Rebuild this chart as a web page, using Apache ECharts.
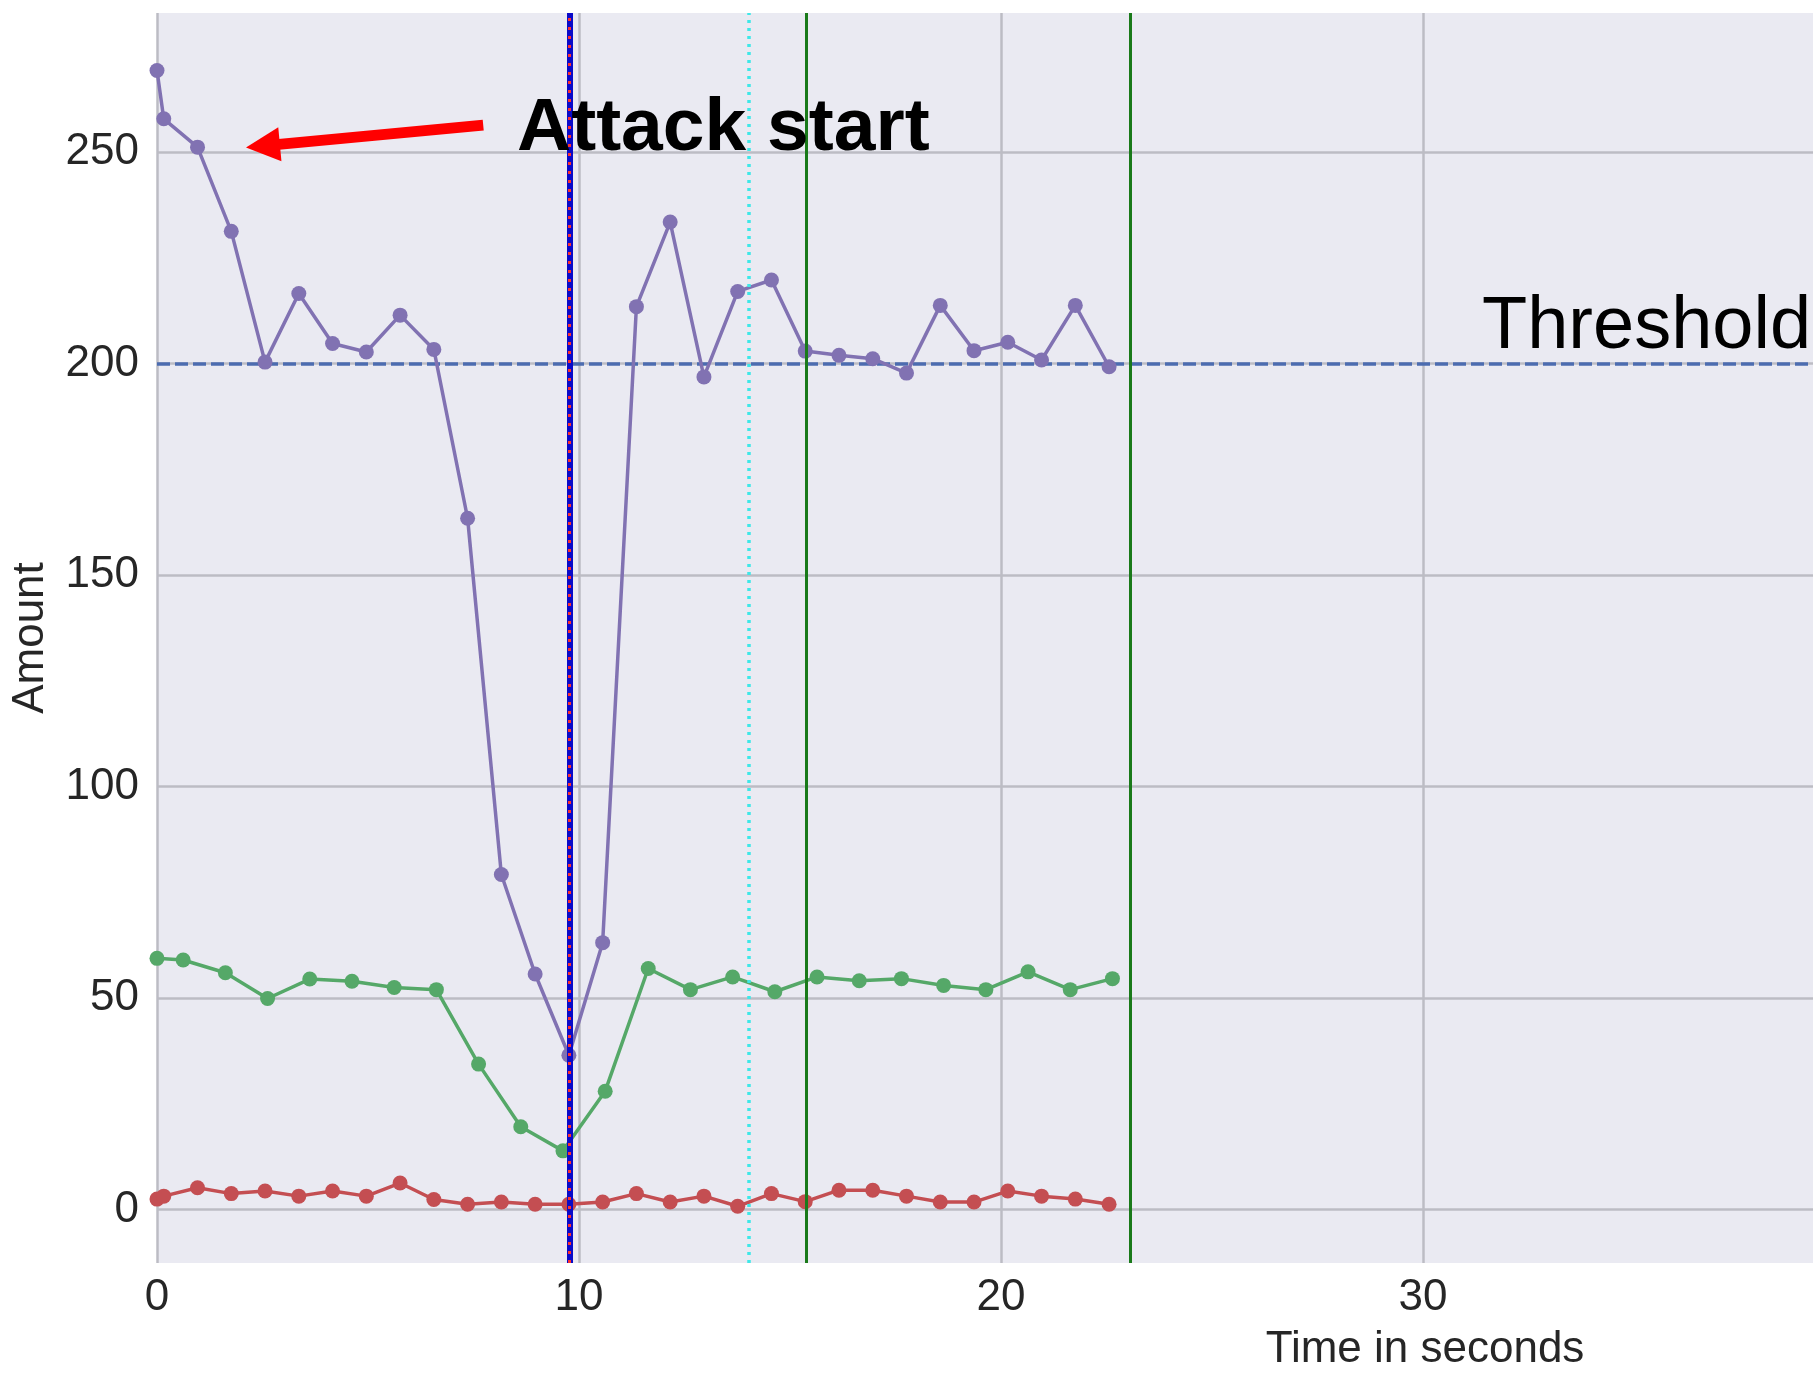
<!DOCTYPE html>
<html>
<head>
    <meta charset="utf-8">
    <title>Attack</title>
    <script src="https://cdn.jsdelivr.net/npm/echarts@6/dist/echarts.min.js"></script>
    <style>
        html, body { margin: 0; padding: 0; background: #fff; }
        #main { width: 1813px; height: 1373px; }
    </style>
</head>
<body>
<div id="main"></div>
<script>
    // x positions (seconds)
    var purpleX = [0, 0.16, 0.96, 1.76, 2.56, 3.36, 4.16, 4.96, 5.76, 6.56, 7.36, 8.16, 8.96, 9.76, 10.56,
        11.36, 12.16, 12.96, 13.76, 14.56, 15.36, 16.16, 16.96, 17.76, 18.56, 19.36, 20.16, 20.96, 21.76, 22.56];
    var purpleY = [269.2, 257.8, 251.1, 231.2, 200.3, 216.5, 204.7, 202.7, 211.4, 203.3, 163.4, 79.2, 55.7, 36.5, 63.1,
        213.4, 233.4, 196.8, 217.0, 219.7, 202.9, 201.9, 201.1, 197.7, 213.7, 203.0, 205.0, 200.8, 213.7, 199.2];
    var redY = [2.5, 3.2, 5.2, 3.8, 4.4, 3.2, 4.4, 3.2, 6.3, 2.4, 1.3, 1.8, 1.3, 1.3, 1.8,
        3.8, 1.8, 3.2, 0.8, 3.8, 1.9, 4.6, 4.6, 3.2, 1.8, 1.8, 4.4, 3.2, 2.5, 1.3];
    var greenX = [0, 0.62, 1.62, 2.62, 3.62, 4.62, 5.62, 6.62, 7.62, 8.62, 9.62, 10.62,
        11.64, 12.64, 13.64, 14.64, 15.64, 16.64, 17.64, 18.64, 19.64, 20.64, 21.64, 22.64];
    var greenY = [59.4, 59.0, 56.0, 49.9, 54.5, 54.0, 52.5, 52.0, 34.4, 19.6, 13.9, 28.0,
        57.0, 52.0, 55.0, 51.5, 55.0, 54.1, 54.6, 53.0, 52.0, 56.2, 52.0, 54.6];

    var threshold = 200;
    var attackLine = 9.77;   // blue + red dashed
    var cyanLine = 14.02;
    var greenLines = [15.38, 23.05];
    var arrowFrom = [7.73, 256.3];   // tail
    var arrowTo = [2.51, 251.4];     // head

    function pairs(xs, ys) {
        var out = [];
        for (var i = 0; i < xs.length; i++) out.push([xs[i], ys[i]]);
        return out;
    }

    var font = "'Liberation Sans', Arial, sans-serif";
    var chart = echarts.init(document.getElementById('main'));

    function dataSeries(name, data, color) {
        return {
            name: name,
            type: 'line',
            data: data,
            z: 2,
            symbol: 'circle',
            symbolSize: 15,
            showSymbol: true,
            lineStyle: { color: color, width: 3.5 },
            itemStyle: { color: color },
            animation: false
        };
    }

    chart.setOption({
        animation: false,
        grid: {
            left: 157, right: 0, top: 13, bottom: 110,
            show: true, backgroundColor: '#EAEAF2', borderWidth: 0
        },
        xAxis: {
            type: 'value',
            min: 0, max: 39.24, interval: 10,
            axisLine: { show: false },
            axisTick: { show: false },
            axisLabel: {
                fontSize: 44, color: '#262626', fontFamily: font, margin: 13,
                showMaxLabel: false,
                formatter: function (v) { return v % 10 === 0 ? v : ''; }
            },
            splitLine: { show: true, showMaxLine: false, lineStyle: { color: '#bcbcc4', width: 2.5 } }
        },
        yAxis: {
            type: 'value',
            min: -12.6, max: 282.8, splitNumber: 6,
            name: 'Amount',
            nameLocation: 'middle',
            nameRotate: 90,
            nameGap: 104,
            nameTextStyle: { fontSize: 44, color: '#262626', fontFamily: font },
            axisLine: { show: false },
            axisTick: { show: false },
            axisLabel: {
                fontSize: 44, color: '#262626', fontFamily: font, margin: 18,
                showMinLabel: false, showMaxLabel: false,
                formatter: function (v) { return v % 50 === 0 ? v : ''; }
            },
            splitLine: {
                show: true, showMinLine: false, showMaxLine: false,
                lineStyle: { color: '#bcbcc4', width: 2.5 }
            }
        },
        series: [
            {
                type: 'line', data: [], z: 1,
                markLine: {
                    z: 1, silent: true, symbol: 'none', animation: false,
                    label: { show: false },
                    lineStyle: { color: '#4c6cb0', type: [13, 5], width: 3.5 },
                    data: [{ yAxis: threshold }]
                }
            },
            dataSeries('purple', pairs(purpleX, purpleY), '#8172B2'),
            dataSeries('green', pairs(greenX, greenY), '#55A868'),
            dataSeries('red', pairs(purpleX, redY), '#C44E52'),
            {
                type: 'line', data: [], z: 5,
                markLine: {
                    z: 5, silent: true, symbol: 'none', animation: false,
                    label: { show: false },
                    data: [
                        { xAxis: attackLine, lineStyle: { color: '#0a0ac8', width: 6, type: 'solid' } },
                        { xAxis: attackLine, lineStyle: { color: '#ff3030', width: 3, type: [3, 6] } },
                        { xAxis: cyanLine, lineStyle: { color: '#3ee8e8', width: 3.5, type: [3, 5] } },
                        { xAxis: greenLines[0], lineStyle: { color: '#1a7a1a', width: 3, type: 'solid' } },
                        { xAxis: greenLines[1], lineStyle: { color: '#1a7a1a', width: 3, type: 'solid' } },
                        [
                            { coord: arrowTo, symbol: 'triangle', symbolSize: [34, 34] },
                            { coord: arrowFrom, symbol: 'none',
                              lineStyle: { color: '#ff0000', width: 11, type: 'solid' } }
                        ]
                    ]
                }
            }
        ],
        graphic: [
            {
                type: 'text', x: 517, y: 129, z: 10,
                style: { text: 'Attack start', fill: '#000', font: 'bold 75px ' + font, verticalAlign: 'middle', align: 'left' }
            },
            {
                type: 'text', x: 1482, y: 328, z: 10,
                style: { text: 'Threshold', fill: '#000', font: '74px ' + font, verticalAlign: 'middle', align: 'left' }
            },
            {
                type: 'text', x: 1425, y: 1350, z: 10,
                style: { text: 'Time in seconds', fill: '#262626', font: '44px ' + font, verticalAlign: 'middle', align: 'center' }
            }
        ]
    });
</script>
</body>
</html>
